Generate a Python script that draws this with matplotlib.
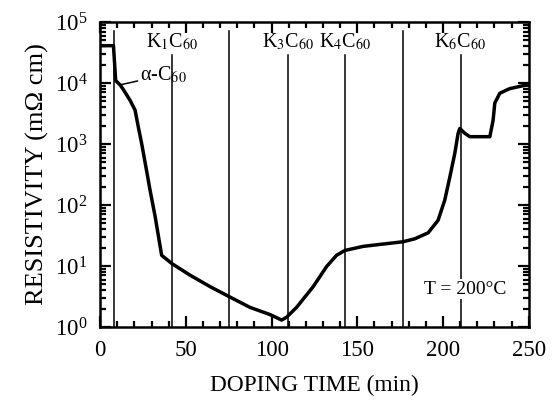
import matplotlib
matplotlib.use("Agg")
import matplotlib.pyplot as plt
from matplotlib.ticker import LogLocator, MultipleLocator, NullFormatter

plt.rcParams["font.family"] = ["Liberation Serif", "DejaVu Serif"]
plt.rcParams["mathtext.fontset"] = "stix"

# doping time (min) and resistivity (mOhm cm)
time = [0, 7.8, 9.1, 11.7, 13.6, 17.5, 20.4, 22.3, 24.3, 27.2, 29.1, 32.1, 35.9,
        37.9, 41.8, 52.4, 64.1, 74.8, 87.4, 99.1, 105.9, 108.8, 114.6, 124.3,
        132.1, 137.9, 142.8, 153.4, 176.7, 183.6, 191.3, 197.1, 201.0, 204.0,
        206.9, 208.8, 209.8, 212.7, 215.6, 227.3, 229.2, 230.2, 233.1, 238.9,
        248.6, 250.0]
resist = [4.1e4, 4.1e4, 1.1e4, 9.3e3, 7.8e3, 5.2e3, 3.6e3, 1.9e3, 1.0e3, 355,
          178, 65, 15, 13.5, 11, 7.1, 4.6, 3.2, 2.1, 1.6, 1.3, 1.45, 2.1, 4.6,
          9.8, 15, 18, 21, 25, 28, 35, 56, 120, 290, 710, 1.5e3, 1.8e3, 1.5e3,
          1.32e3, 1.32e3, 2.45e3, 4.7e3, 6.8e3, 8.1e3, 9.3e3, 9.5e3]

# phase boundaries (min); labelled ones get a phase name above
phase_x = [8.3, 41.8, 75.2, 109.4, 143.0, 176.8, 210.2]
phase_lbl = [None, r"K$_1$C$_{60}$", None, r"K$_3$C$_{60}$", r"K$_4$C$_{60}$",
             None, r"K$_6$C$_{60}$"]

fig = plt.figure(figsize=(5.56, 4.01), dpi=100)
ax = fig.add_axes([0.18, 0.1845, 0.771, 0.7605])
ax.set_yscale("log")
ax.set_xlim(0, 250)
ax.set_ylim(1, 1e5)

for x, lbl in zip(phase_x, phase_lbl):
    top = 10 ** 4.46 if lbl else 10 ** 4.85
    ax.plot([x, x], [1, top], color="k", lw=1.1, zorder=1)
    if lbl:
        ax.text(x, 10 ** 4.68, lbl, ha="center", va="center", fontsize=14.5)

ax.plot(time, resist, color="k", lw=2.5, zorder=3)

ax.annotate("\u03b1-C$_{60}$", xy=(11.7, 10 ** 3.97), xytext=(23.5, 10 ** 4.13),
            ha="left", va="center", fontsize=14.5,
            arrowprops=dict(arrowstyle="-", color="k", lw=1.1, shrinkA=0, shrinkB=0))

ax.text(213, 10 ** 0.62, "T = 200°C", ha="center", va="center", fontsize=14,
        bbox=dict(facecolor="white", edgecolor="none", pad=1), zorder=2)

ax.xaxis.set_major_locator(MultipleLocator(50))
ax.xaxis.set_minor_locator(MultipleLocator(10))
ax.yaxis.set_major_locator(LogLocator(base=10, numticks=10))
ax.yaxis.set_minor_locator(LogLocator(base=10, subs=range(2, 10), numticks=10))
ax.yaxis.set_minor_formatter(NullFormatter())

ax.tick_params(which="both", direction="in", top=True, right=True, width=1.6,
               labelsize=16.5)
ax.tick_params(which="major", length=8)
ax.tick_params(which="minor", length=4)
ax.tick_params(axis="x", pad=9)
ax.tick_params(axis="y", pad=9)
for s in ax.spines.values():
    s.set_linewidth(1.8)

ax.set_xlabel("DOPING TIME (min)", fontsize=16.8, labelpad=10)
ax.set_ylabel("RESISTIVITY (m\u03a9 cm)", fontsize=19, labelpad=4)

fig.savefig("out.png", dpi=100)
